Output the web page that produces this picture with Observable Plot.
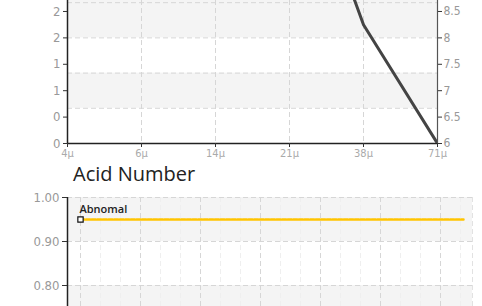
<!DOCTYPE html>
<html><head><meta charset="utf-8">
<script src="https://cdn.jsdelivr.net/npm/d3@7"></script>
<script src="https://cdn.jsdelivr.net/npm/@observablehq/plot@0.6"></script>
<style>
body{margin:0;background:#fff;width:482px;height:306px;overflow:hidden;position:relative;}
#top{position:absolute;left:0;top:0;}
#title{position:absolute;left:73px;top:164px;font-family:"Open Sans",sans-serif;font-size:20px;line-height:20px;color:#222;white-space:nowrap;}
#bottom{position:absolute;left:0;top:188px;}
[aria-label*="tick label"]{font-stretch:condensed;}
</style></head><body>
<div id="top"></div><div id="title">Acid Number</div><div id="bottom"></div>
<script>
// ---- top chart data ----
const sizes = ["4μ", "6μ", "14μ", "21μ", "38μ", "71μ"];
const counts = [18.0, 16.0, 14.0, 12.1, 8.25, 6.0];
const rightTicks = [6, 6.5, 7, 7.5, 8, 8.5];
const rightLabels = ["6", "6.5", "7", "7.5", "8", "8.5"];
const leftLabels = ["0", "0", "1", "1", "2", "2"];
const topGrid = [6.667, 7.333, 8.0, 8.667];
const topBandLow = [6.667, 8.0];
const topBandHigh = [7.333, 8.708];

// ---- bottom chart data ----
const acidX = [0, 19.15];
const acidY = [0.95, 0.95];
const acidLabel = "Abnomal";
const acidTicks = [0.8, 0.9, 1.0];
const acidBandLow = [0.9, 0.7523];
const acidBandHigh = [1.0, 0.8];
const majorX = [0, 3, 6, 9, 12, 15, 18];
const minorX = [1, 2, 4, 5, 7, 8, 10, 11, 13, 14, 16, 17, 19];

const axisFont = '"DejaVu Sans Condensed","DejaVu Sans",sans-serif';
const gridDash = "5,3";

const lineData = sizes.map((s, i) => ({size: s, value: counts[i]}));
const topBands = topBandLow.map((lo, i) => ({lo, hi: topBandHigh[i]}));

const topPlot = Plot.plot({
  width: 482, height: 162,
  marginLeft: 67, marginRight: 45, marginTop: 0, marginBottom: 19,
  style: {fontFamily: axisFont, fontSize: "12px", background: "transparent"},
  x: {type: "point", domain: sizes, padding: 0, axis: null, label: null},
  y: {domain: [6, 8.708], axis: null, label: null},
  marks: [
    Plot.rect(topBands, {y1: "lo", y2: "hi", fill: "#f4f4f4"}),
    Plot.ruleY(topGrid, {stroke: "#d6d6d6", strokeDasharray: gridDash}),
    Plot.ruleX(sizes.slice(1, 5), {stroke: "#d6d6d6", strokeDasharray: gridDash}),
    Plot.ruleX([sizes[0]], {stroke: "#222", strokeWidth: 1.5}),
    Plot.ruleX([sizes[5]], {stroke: "#555", strokeWidth: 1.2}),
    Plot.ruleY([6], {stroke: "#222", strokeWidth: 1.5}),
    Plot.line(lineData, {x: "size", y: "value", stroke: "#444", strokeWidth: 3, clip: true}),
    Plot.axisY(rightTicks, {anchor: "left", label: null, tickSize: 4, tickPadding: 3, stroke: "#333", fill: "#999",
      tickFormat: d => leftLabels[rightTicks.indexOf(d)], fontSize: 13}),
    Plot.axisY(rightTicks, {anchor: "right", label: null, tickSize: 4, tickPadding: 2, stroke: "#333", fill: "#999",
      tickFormat: d => rightLabels[rightTicks.indexOf(d)], fontSize: 12}),
    Plot.axisX(sizes, {anchor: "bottom", label: null, tickSize: 4, tickPadding: 2, stroke: "#333", fill: "#aaa", fontSize: 11})
  ]
});
document.getElementById("top").appendChild(topPlot);

const acidData = acidX.map((x, i) => ({x, y: acidY[i]}));
const acidBands = acidBandLow.map((lo, i) => ({lo, hi: acidBandHigh[i]}));

const bottomPlot = Plot.plot({
  width: 482, height: 118,
  marginLeft: 67, marginRight: 10, marginTop: 9, marginBottom: 0,
  style: {fontFamily: axisFont, fontSize: "13px", background: "transparent"},
  x: {domain: [-0.65, 19.6], axis: null, label: null},
  y: {domain: [0.7523, 1.0], axis: null, label: null},
  marks: [
    Plot.rect(acidBands, {y1: "lo", y2: "hi", fill: "#f4f4f4"}),
    Plot.ruleX(minorX, {stroke: "#efefef", strokeDasharray: gridDash}),
    Plot.ruleX(majorX, {stroke: "#d6d6d6", strokeDasharray: gridDash}),
    Plot.ruleX([19.6], {stroke: "#e2e2e2", strokeDasharray: gridDash}),
    Plot.ruleY(acidTicks, {stroke: "#d6d6d6", strokeDasharray: gridDash}),
    Plot.ruleX([-0.65], {stroke: "#222", strokeWidth: 1.5}),
    Plot.line(acidData, {x: "x", y: "y", stroke: "#FFC400", strokeWidth: 2.5, strokeDasharray: "4,1.6"}),
    Plot.dot(acidData.slice(0, 1), {x: "x", y: "y", symbol: "square", r: 3, fill: "white", stroke: "#111", strokeWidth: 1.2}),
    Plot.text(acidData.slice(0, 1), {x: "x", y: "y", text: () => acidLabel, textAnchor: "start", dx: -1, dy: -10,
      fontFamily: '"Open Sans",sans-serif', fontWeight: 600, fontSize: 11, fill: "#222"}),
    Plot.axisY(acidTicks, {anchor: "left", label: null, tickSize: 5, tickPadding: 3, stroke: "#333", fill: "#999", tickFormat: ".2f", fontSize: 13})
  ]
});
document.getElementById("bottom").appendChild(bottomPlot);
</script>
</body></html>
